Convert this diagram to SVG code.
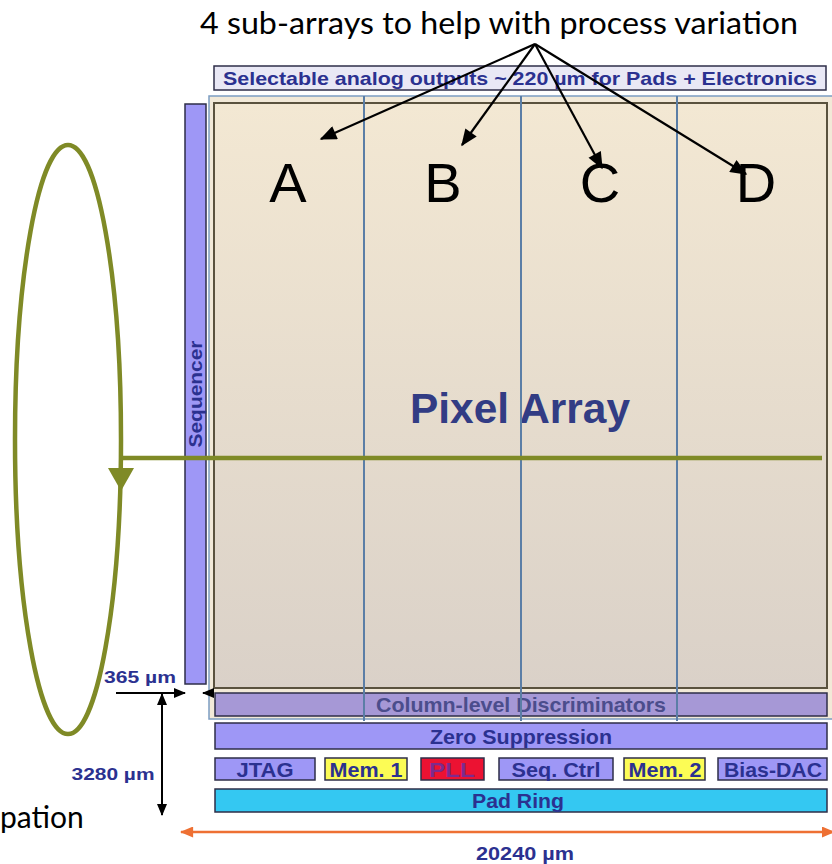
<svg xmlns="http://www.w3.org/2000/svg" width="832" height="864" viewBox="0 0 832 864">
  <defs>
    <linearGradient id="pixelFill" x1="0" y1="0" x2="0" y2="1">
      <stop offset="0" stop-color="#f3e8d3"/>
      <stop offset="1" stop-color="#dad1c8"/>
    </linearGradient>
    <marker id="blackHead" viewBox="0 0 12 10" refX="11" refY="5" markerWidth="19" markerHeight="14" markerUnits="userSpaceOnUse" orient="auto">
      <path d="M0,0 L12,5 L0,10 z" fill="#000"/>
    </marker>
    <marker id="dimHead" viewBox="0 0 12 10" refX="11" refY="5" markerWidth="12" markerHeight="10" markerUnits="userSpaceOnUse" orient="auto-start-reverse">
      <path d="M0,0 L12,5 L0,10 z" fill="#000"/>
    </marker>
    <marker id="orangeHead" viewBox="0 0 12 10" refX="11" refY="5" markerWidth="14" markerHeight="11" markerUnits="userSpaceOnUse" orient="auto-start-reverse">
      <path d="M0,0 L12,5 L0,10 z" fill="#ee7033"/>
    </marker>
    <style>
      .lbl { font-family: "Liberation Sans", Arial, sans-serif; font-weight: bold; fill: #2b3190; text-anchor: middle; }
      .blk { stroke: #2e2e48; stroke-width: 1.5; }
      .lav { fill: #9e97f6; }
      .yel { fill: #fcfc55; }
      .hand { font-family: Lato, "Open Sans", sans-serif; fill: #000; }
      .letter { font-family: "Liberation Sans", Arial, sans-serif; font-size: 56px; fill: #000; text-anchor: middle; }
      .div { stroke: #5b7ea6; stroke-width: 2; }
      .olive { stroke: #7f8a26; stroke-width: 4.5; fill: none; }
    </style>
  </defs>

  <rect width="832" height="864" fill="#fff"/>

  <!-- caption above the chip -->
  <text class="hand" x="200" y="34" font-size="30" textLength="598" lengthAdjust="spacingAndGlyphs">4 sub-arrays to help with process variation</text>

  <!-- analog output strip -->
  <g id="analog-outputs">
    <rect x="214" y="66" width="612" height="24" fill="#e9e8f5" class="blk"/>
    <text class="lbl" x="520" y="85" font-size="19" textLength="594" lengthAdjust="spacingAndGlyphs">Selectable analog outputs ~ 220 µm for Pads + Electronics</text>
  </g>

  <!-- pixel array with its four sub-arrays -->
  <g id="pixel-array">
    <rect x="209" y="96" width="630" height="623" fill="#f2e9d8" stroke="#7c9dc2" stroke-width="1.5"/>
    <rect x="214" y="103" width="613" height="585" fill="url(#pixelFill)" stroke="#5a523e" stroke-width="2"/>
    <text class="lbl" x="520" y="423" font-size="43" style="fill:#323c84" textLength="220" lengthAdjust="spacingAndGlyphs">Pixel Array</text>
  </g>

  <g id="sub-array-A"><text class="letter" x="288" y="202">A</text></g>
  <g id="sub-array-B"><text class="letter" x="443" y="202">B</text></g>
  <g id="sub-array-C"><text class="letter" x="600" y="202">C</text></g>
  <g id="sub-array-D"><text class="letter" x="756" y="202">D</text></g>

  <!-- sequencer column -->
  <g id="sequencer">
    <rect x="185" y="104" width="21" height="580" class="lav blk"/>
    <text class="lbl" transform="translate(202,394) rotate(-90)" font-size="19" textLength="107" lengthAdjust="spacingAndGlyphs">Sequencer</text>
  </g>

  <!-- discriminator row -->
  <g id="column-discriminators">
    <rect x="215" y="693" width="612" height="23" fill="#a698d6" class="blk"/>
    <text class="lbl" x="521" y="712" font-size="21" style="fill:#4b4d8c" textLength="290" lengthAdjust="spacingAndGlyphs">Column-level Discriminators</text>
  </g>

  <!-- sub-array dividers -->
  <g id="dividers">
    <line class="div" x1="364" y1="96" x2="364" y2="721"/>
    <line class="div" x1="521" y1="96" x2="521" y2="721"/>
    <line class="div" x1="677" y1="96" x2="677" y2="721"/>
  </g>

  <g id="zero-suppression">
    <rect x="215" y="723" width="612" height="26" class="lav blk"/>
    <text class="lbl" x="521" y="744" font-size="21" textLength="182" lengthAdjust="spacingAndGlyphs">Zero Suppression</text>
  </g>

  <!-- periphery blocks -->
  <g id="jtag">
    <rect x="215" y="758" width="100" height="22" class="lav blk"/>
    <text class="lbl" x="265" y="777" font-size="21" textLength="57" lengthAdjust="spacingAndGlyphs">JTAG</text>
  </g>
  <g id="mem1">
    <rect x="325" y="758" width="82" height="22" class="yel blk"/>
    <text class="lbl" x="366" y="777" font-size="21" textLength="73" lengthAdjust="spacingAndGlyphs">Mem. 1</text>
  </g>
  <g id="pll">
    <rect x="421" y="758" width="63" height="22" fill="#ec1232" class="blk"/>
    <text class="lbl" x="452" y="777" font-size="21" style="fill:#7e2a8e" textLength="46" lengthAdjust="spacingAndGlyphs">PLL</text>
  </g>
  <g id="seq-ctrl">
    <rect x="499" y="758" width="114" height="22" class="lav blk"/>
    <text class="lbl" x="556" y="777" font-size="21" textLength="89" lengthAdjust="spacingAndGlyphs">Seq. Ctrl</text>
  </g>
  <g id="mem2">
    <rect x="624" y="758" width="81" height="22" class="yel blk"/>
    <text class="lbl" x="665" y="777" font-size="21" textLength="73" lengthAdjust="spacingAndGlyphs">Mem. 2</text>
  </g>
  <g id="bias-dac">
    <rect x="718" y="758" width="109" height="22" class="lav blk"/>
    <text class="lbl" x="773" y="777" font-size="21" textLength="98" lengthAdjust="spacingAndGlyphs">Bias-DAC</text>
  </g>
  <g id="pad-ring">
    <rect x="215" y="789" width="612" height="23" fill="#34c8f2" class="blk"/>
    <text class="lbl" x="518" y="808" font-size="21" textLength="92" lengthAdjust="spacingAndGlyphs">Pad Ring</text>
  </g>

  <!-- dimension labels -->
  <g id="dim-labels">
    <text class="lbl" x="140" y="683" font-size="17" textLength="72" lengthAdjust="spacingAndGlyphs">365 µm</text>
    <text class="lbl" x="113" y="780" font-size="17" textLength="83" lengthAdjust="spacingAndGlyphs">3280 µm</text>
    <text class="lbl" x="525" y="860" font-size="19" textLength="98" lengthAdjust="spacingAndGlyphs">20240 µm</text>
  </g>

  <text class="hand" x="0" y="828" font-size="30">pation</text>

  <!-- connectors -->
  <g id="connectors">
    <g stroke="#000" stroke-width="2.2" fill="none" marker-end="url(#blackHead)">
      <line x1="535" y1="44" x2="321" y2="139"/>
      <line x1="535" y1="44" x2="462" y2="145"/>
      <line x1="535" y1="44" x2="602" y2="168"/>
      <line x1="535" y1="44" x2="746" y2="174"/>
    </g>
    <!-- width of the sequencer gap -->
    <line x1="116" y1="693" x2="185" y2="693" stroke="#000" stroke-width="2" marker-end="url(#dimHead)"/>
    <line x1="214" y1="693" x2="203" y2="693" stroke="#000" stroke-width="2" marker-end="url(#dimHead)"/>
    <!-- periphery height -->
    <line x1="162" y1="694" x2="162" y2="815" stroke="#000" stroke-width="2" marker-start="url(#dimHead)" marker-end="url(#dimHead)"/>
    <!-- chip width -->
    <line x1="181" y1="832" x2="834" y2="832" stroke="#ee7033" stroke-width="2.5" marker-start="url(#orangeHead)" marker-end="url(#orangeHead)"/>
    <!-- readout loop -->
    <ellipse class="olive" cx="68" cy="439.5" rx="53" ry="294.5"/>
    <line class="olive" x1="119" y1="458" x2="822" y2="458"/>
    <path d="M108,468 L134,468 L121,491 z" fill="#7f8a26"/>
  </g>
</svg>
